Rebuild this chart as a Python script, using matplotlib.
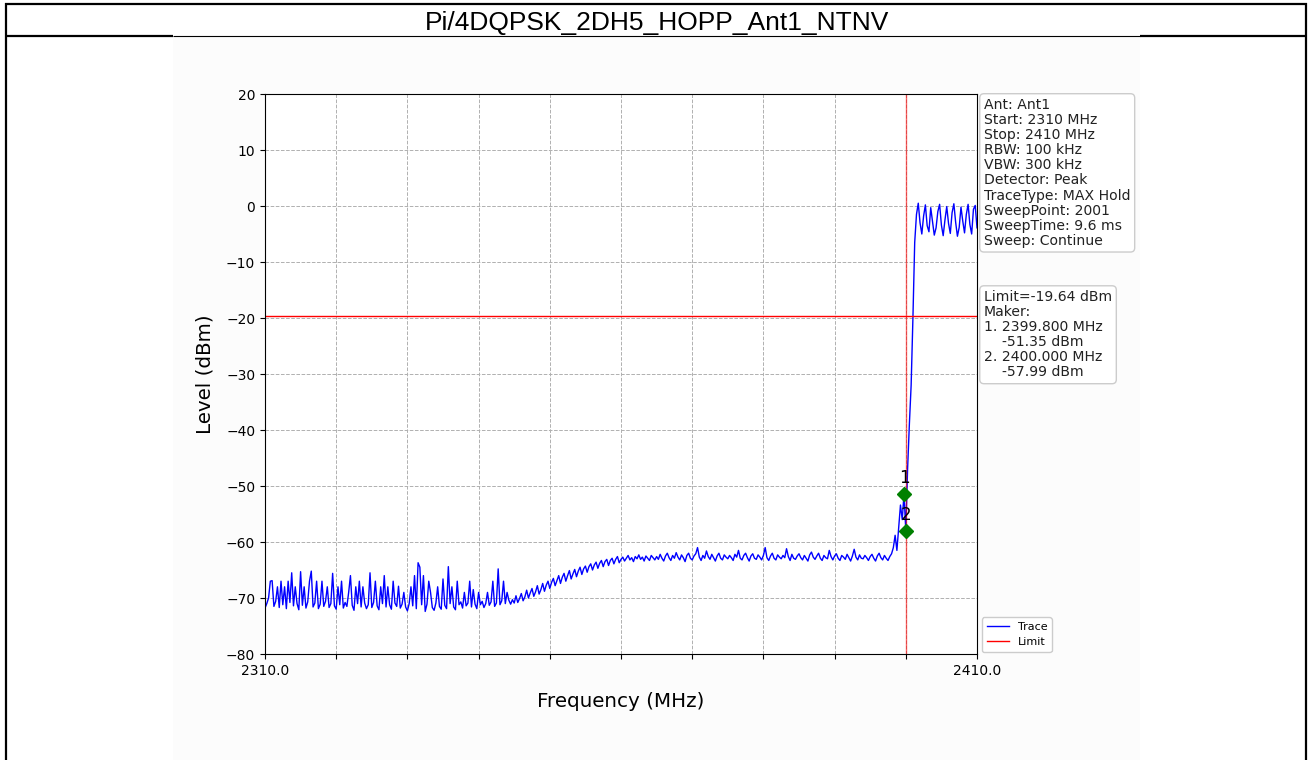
import numpy as np
import matplotlib
matplotlib.use("Agg")
import matplotlib.pyplot as plt
from matplotlib.lines import Line2D
from matplotlib.patches import Rectangle

# Test case / sweep settings
title = "Pi/4DQPSK_2DH5_HOPP_Ant1_NTNV"
start_mhz = 2310.0
stop_mhz = 2410.0
limit_dbm = -19.64
marker_mhz = [2399.800, 2400.000]
marker_dbm = [-51.35, -57.99]
edge_mhz = 2400.0

setup_lines = [
    "Ant: Ant1",
    "Start: 2310 MHz",
    "Stop: 2410 MHz",
    "RBW: 100 kHz",
    "VBW: 300 kHz",
    "Detector: Peak",
    "TraceType: MAX Hold",
    "SweepPoint: 2001",
    "SweepTime: 9.6 ms",
    "Sweep: Continue",
]

y_ticks = [-80, -70, -60, -50, -40, -30, -20, -10, 0, 10, 20]
x_ticks = [2310, 2320, 2330, 2340, 2350, 2360, 2370, 2380, 2390, 2400, 2410]

# Trace level (dBm), one value every 0.25 MHz from start to stop
trace_dbm = [
    -71.8, -71.0, -70.0, -67.0, -66.9, -71.5, -70.6, -68.0, -71.7, -67.0, -71.2, -68.0, -71.9, -67.0, -70.8, -65.5, -71.4, -68.0, -71.0, -72.1,
    -65.3, -71.3, -68.0, -71.8, -70.7, -67.0, -65.2, -71.6, -70.9, -67.0, -71.9, -71.1, -67.0, -71.5, -70.6, -68.0, -71.7, -71.0, -65.6, -71.4,
    -72.0, -68.0, -71.2, -67.0, -71.8, -70.8, -71.5, -69.0, -66.0, -71.3, -72.2, -68.0, -71.0, -67.0, -71.6, -68.0, -70.9, -71.9, -71.2, -65.5,
    -71.7, -70.8, -67.0, -71.4, -72.1, -68.0, -71.0, -66.0, -71.6, -68.0, -71.2, -72.0, -67.0, -70.9, -71.5, -67.9, -71.8, -71.1, -69.0, -71.6,
    -72.3, -71.0, -68.0, -71.4, -66.0, -71.9, -63.7, -64.5, -71.2, -66.0, -72.4, -71.1, -67.0, -69.0, -71.7, -72.2, -70.9, -68.0, -71.5, -72.0,
    -66.6, -71.3, -71.9, -64.4, -71.0, -68.0, -71.6, -72.1, -67.0, -71.2, -70.7, -71.8, -69.0, -71.4, -70.9, -67.0, -71.6, -68.5, -71.1, -71.9,
    -69.0, -71.2, -70.6, -71.7, -71.0, -69.0, -71.3, -70.7, -67.0, -71.5, -70.9, -64.8, -71.2, -70.5, -67.0, -71.0, -69.0, -70.4, -71.1, -70.3,
    -70.9, -69.6, -70.8, -70.1, -69.2, -70.5, -69.8, -68.6, -70.0, -69.1, -68.3, -69.7, -68.9, -67.8, -69.3, -68.5, -67.4, -68.8, -67.7, -67.0,
    -68.3, -67.2, -66.5, -67.8, -66.9, -66.0, -67.4, -66.3, -65.6, -67.0, -66.0, -65.1, -66.6, -65.7, -64.9, -66.2, -65.2, -64.5, -65.8, -64.8,
    -64.3, -65.4, -64.4, -63.9, -65.0, -64.1, -63.6, -64.7, -63.8, -63.3, -64.4, -63.5, -63.1, -64.2, -63.3, -62.9, -63.9, -63.1, -62.6, -63.7,
    -63.1, -62.7, -63.4, -62.9, -62.4, -63.2, -62.8, -63.5, -62.6, -63.0, -62.3, -63.1, -62.7, -63.4, -62.5, -62.9, -63.3, -62.4, -62.8, -63.2,
    -62.6, -63.1, -62.2, -62.9, -63.4, -62.5, -62.0, -62.8, -63.3, -62.4, -62.9, -61.9, -62.7, -63.2, -62.3, -62.8, -63.5, -62.4, -62.0, -62.9,
    -63.2, -62.5, -62.1, -61.0, -62.7, -63.3, -62.4, -62.9, -61.6, -62.6, -63.1, -62.2, -62.8, -63.4, -62.5, -62.0, -62.9, -63.2, -62.3, -62.7,
    -63.0, -62.4, -62.8, -63.3, -62.2, -62.7, -61.5, -62.9, -63.2, -62.4, -62.0, -62.8, -63.4, -62.5, -62.1, -62.9, -63.1, -62.3, -62.7, -63.2,
    -62.4, -61.0, -62.8, -63.3, -62.5, -62.0, -62.9, -63.2, -62.3, -62.7, -63.0, -62.4, -62.8, -61.2, -62.6, -63.3, -62.2, -62.9, -63.1, -62.5,
    -62.1, -62.8, -63.2, -62.4, -62.9, -63.4, -62.3, -61.8, -62.7, -63.1, -62.5, -62.0, -62.9, -63.3, -62.4, -62.8, -63.0, -61.5, -62.6, -63.2,
    -62.5, -62.1, -62.9, -63.3, -62.4, -62.7, -63.1, -62.2, -62.8, -63.4, -62.5, -61.3, -62.7, -63.2, -62.3, -62.9, -63.0, -62.4, -62.8, -63.3,
    -62.6, -62.2, -62.9, -63.4, -62.5, -62.0, -62.8, -63.2, -62.4, -62.9, -63.3, -62.6, -62.1, -61.0, -58.8, -61.5, -57.5, -53.4, -56.0, -51.4,
    -58.0, -47.0, -39.0, -32.0, -20.0, -6.5, -1.5, 0.5, -3.0, -5.0, -1.8, 0.2, -3.5, -4.6, -0.3, -2.8, -5.2, -3.9, -1.0, 0.3,
    -3.4, -5.3, -2.5, -0.1, -3.1, -4.9, -1.2, 0.4, -2.9, -5.4, -3.8, -0.2, -2.7, -4.8, -1.5, 0.3, -3.3, -5.0, -0.6, 0.1,
    -3.9,
]

freq_mhz = np.linspace(start_mhz, stop_mhz, len(trace_dbm))

W, H = 1309, 760
fig = plt.figure(figsize=(W / 100, H / 100), dpi=100)
fig.patch.set_facecolor("white")


def fx(px):
    return px / W


def fy(py):
    return 1 - py / H


def page_line(x0, y0, x1, y1, lw):
    fig.add_artist(Line2D([fx(x0), fx(x1)], [fy(y0), fy(y1)], transform=fig.transFigure,
                          color="black", linewidth=lw, solid_capstyle="butt"))


# report page frame and header
fig.add_artist(Rectangle((fx(173), 0), fx(1140) - fx(173), fy(36), transform=fig.transFigure,
                         facecolor="#fcfcfc", edgecolor="none", zorder=0))
page_line(4.5, 3.5, 1306.5, 3.5, 1.6)
page_line(5.5, 2.5, 5.5, 760, 1.6)
page_line(1305.5, 2.5, 1305.5, 760, 1.6)
page_line(4.5, 35.5, 173, 35.5, 1.6)
page_line(173, 35.5, 1140, 35.5, 0.8)
page_line(1140, 35.5, 1306.5, 35.5, 1.6)
fig.text(fx(657), fy(30), title, ha="center", va="baseline", fontsize=19,
         family="Liberation Sans")

# spectrum plot
ax = fig.add_axes([fx(265), fy(654), fx(977) - fx(265), fy(94) - fy(654)])
ax.set_facecolor("white")
ax.plot(freq_mhz, trace_dbm, color="blue", linewidth=1.0, label="Trace")
ax.axhline(limit_dbm, color="red", linewidth=1.0, label="Limit")
ax.axvline(edge_mhz, color="red", linewidth=1.0, alpha=0.6)
ax.plot(marker_mhz, marker_dbm, linestyle="none", marker="D", markersize=7,
        color="green", zorder=5)
for i, (f, lvl) in enumerate(zip(marker_mhz, marker_dbm)):
    ax.annotate(str(i + 1), (f, lvl), xytext=(0, 5), textcoords="offset points",
                ha="center", va="bottom", fontsize=12)

ax.set_xlim(start_mhz, stop_mhz)
ax.set_ylim(-80, 20)
ax.set_yticks(y_ticks)
ax.set_xticks(x_ticks)
ax.set_xticklabels([f"{t:.1f}" if t in (x_ticks[0], x_ticks[-1]) else "" for t in x_ticks])
ax.tick_params(labelsize=10)
ax.grid(True, linestyle="--", color="#b0b0b0", linewidth=0.7)
ax.set_xlabel("Frequency (MHz)", fontsize=14.3, labelpad=10)
ax.set_ylabel("Level (dBm)", fontsize=14.3, labelpad=8)

box = dict(boxstyle="round,pad=0.3", facecolor="white", edgecolor="#cccccc")
ax.text(1.0098, 0.993, "\n".join(setup_lines), transform=ax.transAxes,
        ha="left", va="top", fontsize=10.1, linespacing=1.1, color="#222222", bbox=box)

marker_lines = [f"Limit={limit_dbm:.2f} dBm", "Maker:"]
for i, (f, lvl) in enumerate(zip(marker_mhz, marker_dbm)):
    marker_lines.append(f"{i + 1}. {f:.3f} MHz")
    marker_lines.append(f"    {lvl:.2f} dBm")
ax.text(1.0098, 0.65, "\n".join(marker_lines), transform=ax.transAxes,
        ha="left", va="top", fontsize=10.1, linespacing=1.1, color="#222222", bbox=box)

ax.legend(loc="lower left", bbox_to_anchor=(1.004, 0.0), fontsize=8,
          borderaxespad=0.2, framealpha=1.0)

fig.savefig("out.png", dpi=100)
